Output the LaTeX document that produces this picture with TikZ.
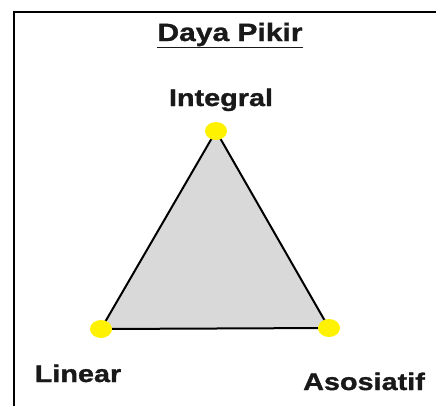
\documentclass[tikz,border=0pt]{standalone}
\usepackage{fontspec}
\usepackage{tikz}
\usetikzlibrary{
    shapes.geometric
}
\newfontfamily\lblfont[FakeStretch=1.2, BoldFeatures={FakeBold=1.2}]{Liberation Sans}
\definecolor{trifill}{HTML}{D9D9D9}
\definecolor{dotyellow}{HTML}{FFF200}

\begin{document}
\begin{tikzpicture}[x=1pt, y=-1pt,
        label/.style={anchor=base, inner sep=0pt, text=black!90, font=\lblfont\bfseries\fontsize{24}{26}\selectfont},
        dot/.style={ellipse, fill=dotyellow, minimum width=22pt, minimum height=18pt, inner sep=0pt}]
            \useasboundingbox (0, 0) rectangle (436, 405);
            \clip (0, 0) rectangle (436, 405);
            % Frame
            \draw[line width=2pt] (14, 12) rectangle (446, 420);
            
            % Title
            \node[label, font=\lblfont\bfseries\fontsize{25}{27}\selectfont] (title) at (230, 41) {\underline{Daya Pikir}};
            
            % Corners
            \coordinate (ctop) at (216, 131);
            \coordinate (cleft) at (101, 329);
            \coordinate (cright) at (329, 328);
            \draw[line width=2pt, fill=trifill, line join=round] (ctop) -- (cleft) -- (cright) -- cycle;
            \node[dot] (dtop) at (ctop) {};
            \node[dot] (dleft) at (cleft) {};
            \node[dot] (dright) at (cright) {};
            
            % Labels
            \node[label] (integral) at (221, 106) {Integral};
            \node[label] (linear) at (78, 382) {Linear};
            \node[label] (asosiatif) at (364, 390) {Asosiatif};
        \end{tikzpicture}
\end{document}
